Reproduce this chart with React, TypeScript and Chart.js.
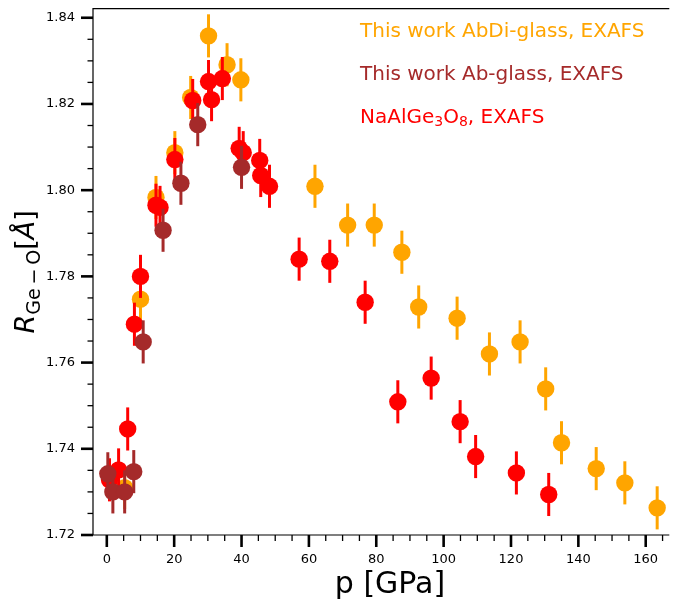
import React, { useEffect, useRef } from "react";
import { Chart, registerables } from "chart.js";

Chart.register(...registerables);

// ---- data ----
const pAbDi = [5.3, 10.0, 14.6, 20.2, 24.9, 30.2, 35.7, 39.8, 61.8, 71.5, 79.4, 87.6, 92.6, 104.0, 113.6, 122.7, 130.3, 135.0, 145.3, 153.8, 163.4];
const rAbDi = [1.731, 1.7747, 1.7983, 1.8087, 1.8215, 1.8358, 1.8291, 1.8256, 1.8009, 1.7919, 1.7919, 1.7856, 1.7729, 1.7703, 1.762, 1.7648, 1.7539, 1.7414, 1.7354, 1.7321, 1.7263];
const eAbDi = [0.005, 0.005, 0.005, 0.005, 0.005, 0.005, 0.005, 0.005, 0.005, 0.005, 0.005, 0.005, 0.005, 0.005, 0.005, 0.005, 0.005, 0.005, 0.005, 0.005, 0.005];

const pAb = [0.3, 1.8, 5.3, 8.0, 10.8, 16.7, 22.0, 27.0, 40.0];
const rAb = [1.7342, 1.73, 1.73, 1.7347, 1.7648, 1.7907, 1.8016, 1.8152, 1.8053];
const eAb = [0.005, 0.005, 0.005, 0.005, 0.005, 0.005, 0.005, 0.005, 0.005];

const pNa = [0.8, 3.5, 6.2, 8.2, 10.0, 14.6, 15.8, 20.2, 25.5, 30.2, 31.1, 34.3, 39.3, 40.5, 45.4, 45.7, 48.3, 57.1, 66.2, 76.7, 86.4, 96.3, 104.9, 109.5, 121.6, 131.2];
const rNa = [1.7328, 1.7351, 1.7446, 1.7689, 1.78, 1.7965, 1.796, 1.8071, 1.8208, 1.8252, 1.821, 1.8259, 1.8097, 1.8087, 1.8069, 1.8034, 1.8009, 1.784, 1.7835, 1.774, 1.7509, 1.7564, 1.7463, 1.7382, 1.7344, 1.7294];
const eNa = [0.005, 0.005, 0.005, 0.005, 0.005, 0.005, 0.005, 0.005, 0.005, 0.005, 0.005, 0.005, 0.005, 0.005, 0.005, 0.005, 0.005, 0.005, 0.005, 0.005, 0.005, 0.005, 0.005, 0.005, 0.005, 0.005];

const xTickLabels = [0, 20, 40, 60, 80, 100, 120, 140, 160];
const yTickLabels = [1.72, 1.74, 1.76, 1.78, 1.8, 1.82, 1.84];

const legendLabels = ["This work AbDi-glass, EXAFS", "This work Ab-glass, EXAFS", "NaAlGe3O8, EXAFS"];

const ORANGE = "#FFA500";
const BROWN = "#A52A2A";
const RED = "#FF0000";
const FONT = "'DejaVu Sans', sans-serif";

const errs: number[][] = [eAb, eNa, eAbDi];

const errorBarPlugin = {
  id: "errbars",
  beforeDatasetDraw(chart: any, args: any) {
    const i = args.index;
    const ds = chart.data.datasets[i];
    const meta = chart.getDatasetMeta(i);
    const ys = chart.scales.y;
    const ctx = chart.ctx;
    ctx.save();
    ctx.strokeStyle = ds.backgroundColor;
    ctx.lineWidth = 3;
    meta.data.forEach((el: any, j: number) => {
      const v = ds.data[j].y;
      const e = errs[i][j];
      ctx.beginPath();
      ctx.moveTo(el.x, ys.getPixelForValue(v - e));
      ctx.lineTo(el.x, ys.getPixelForValue(v + e));
      ctx.stroke();
    });
    ctx.restore();
  },
};

const decorPlugin = {
  id: "decor",
  afterDraw(chart: any) {
    const ctx = chart.ctx;
    const { left, right, top, bottom } = chart.chartArea;
    const xs = chart.scales.x;
    const ys = chart.scales.y;
    ctx.save();
    // frame
    ctx.strokeStyle = "#000";
    ctx.lineWidth = 1.2;
    ctx.beginPath();
    ctx.moveTo(left, bottom);
    ctx.lineTo(left, top);
    ctx.lineTo(right, top);
    ctx.moveTo(left, bottom);
    ctx.lineTo(right, bottom);
    ctx.stroke();
    // y ticks
    for (let k = 0; k <= 24; k++) {
      const v = 1.72 + k * 0.005;
      const major = k % 4 === 0;
      const py = ys.getPixelForValue(v);
      ctx.lineWidth = major ? 2.6 : 1.3;
      ctx.beginPath();
      ctx.moveTo(left, py);
      ctx.lineTo(left - (major ? 12 : 5.5), py);
      ctx.stroke();
    }
    // x ticks
    for (let k = 0; k <= 33; k++) {
      const v = k * 5;
      if (v > xs.max) break;
      const major = k % 4 === 0;
      const px = xs.getPixelForValue(v);
      ctx.lineWidth = major ? 2.6 : 1.3;
      ctx.beginPath();
      ctx.moveTo(px, bottom);
      ctx.lineTo(px, bottom + (major ? 12 : 6));
      ctx.stroke();
    }
    // x title
    ctx.fillStyle = "#000";
    ctx.textAlign = "center";
    ctx.textBaseline = "alphabetic";
    ctx.font = `30px ${FONT}`;
    ctx.fillText("p [GPa]", 390, 593);

    // y title (rotated, mixed fonts)
    ctx.save();
    ctx.translate(34, (top + bottom) / 2);
    ctx.rotate(-Math.PI / 2);
    const parts: { t: string; f: string; dy: number }[] = [
      { t: "R", f: `italic 27px ${FONT}`, dy: 0 },
      { t: "Ge", f: `19px ${FONT}`, dy: 6 },
      { t: "\u2009\u2212\u2009", f: `19px ${FONT}`, dy: 6 },
      { t: "O", f: `19px ${FONT}`, dy: 6 },
      { t: "[", f: `27px ${FONT}`, dy: 0 },
      { t: "Å", f: `italic 27px ${FONT}`, dy: 0 },
      { t: "]", f: `27px ${FONT}`, dy: 0 },
    ];
    let total = 0;
    parts.forEach((p) => {
      ctx.font = p.f;
      total += ctx.measureText(p.t).width;
    });
    let cx = -total / 2;
    ctx.textAlign = "left";
    parts.forEach((p) => {
      ctx.font = p.f;
      ctx.fillText(p.t, cx, p.dy);
      cx += ctx.measureText(p.t).width;
    });
    ctx.restore();

    // legend texts
    const lx = 360;
    const rows = [32, 75, 118];
    const colors = [ORANGE, BROWN, RED];
    ctx.textBaseline = "middle";
    ctx.textAlign = "left";
    for (let r = 0; r < 3; r++) {
      ctx.fillStyle = colors[r];
      if (r < 2) {
        ctx.font = `20px ${FONT}`;
        ctx.fillText(legendLabels[r], lx, rows[r]);
      } else {
        const segs: { t: string; sub: boolean }[] = [
          { t: "NaAlGe", sub: false },
          { t: "3", sub: true },
          { t: "O", sub: false },
          { t: "8", sub: true },
          { t: ", EXAFS", sub: false },
        ];
        let x = lx;
        segs.forEach((s) => {
          ctx.font = s.sub ? `14px ${FONT}` : `20px ${FONT}`;
          ctx.fillText(s.t, x, rows[r] + (s.sub ? 4 : 0));
          x += ctx.measureText(s.t).width;
        });
      }
    }
    ctx.restore();
  },
};

function toPts(xs: number[], ys: number[]) {
  return xs.map((x, i) => ({ x, y: ys[i] }));
}

function zeroPad(s: any) {
  s.paddingTop = 0;
  s.paddingBottom = 0;
  s.paddingLeft = 0;
  s.paddingRight = 0;
}

export default function App() {
  const ref = useRef<HTMLCanvasElement | null>(null);
  useEffect(() => {
    if (!ref.current) return;
    const chart = new Chart(ref.current, {
      type: "scatter",
      data: {
        datasets: [
          { label: legendLabels[1], data: toPts(pAb, rAb), backgroundColor: BROWN, borderColor: BROWN, pointRadius: 8.7, borderWidth: 0, order: 0 } as any,
          { label: legendLabels[2], data: toPts(pNa, rNa), backgroundColor: RED, borderColor: RED, pointRadius: 8.7, borderWidth: 0, order: 1 } as any,
          { label: legendLabels[0], data: toPts(pAbDi, rAbDi), backgroundColor: ORANGE, borderColor: ORANGE, pointRadius: 8.7, borderWidth: 0, order: 2 } as any,
        ],
      },
      options: {
        animation: false,
        responsive: false,
        layout: { padding: { top: 8, right: 0, left: 0, bottom: 0 } },
        plugins: { legend: { display: false }, tooltip: { enabled: false } },
        scales: {
          x: {
            type: "linear",
            min: -4.1,
            max: 167,
            grid: { display: false, drawTicks: false },
            border: { display: false },
            afterBuildTicks: (s: any) => {
              s.ticks = xTickLabels.map((v) => ({ value: v }));
            },
            afterFit: (s: any) => {
              s.height = 65;
              zeroPad(s);
            },
            ticks: {
              padding: 17,
              color: "#000",
              font: { family: FONT, size: 13 },
              maxRotation: 0,
              autoSkip: false,
              callback: (v: any) => String(v),
            },
          },
          y: {
            type: "linear",
            min: 1.72,
            max: 1.8421,
            grid: { display: false, drawTicks: false },
            border: { display: false },
            afterBuildTicks: (s: any) => {
              s.ticks = yTickLabels.map((v) => ({ value: v }));
            },
            afterFit: (s: any) => {
              s.width = 93;
              zeroPad(s);
            },
            ticks: {
              padding: 18,
              color: "#000",
              font: { family: FONT, size: 13 },
              autoSkip: false,
              callback: (v: any) => Number(v).toFixed(2),
            },
          },
        },
      },
      plugins: [errorBarPlugin, decorPlugin],
    });
    return () => chart.destroy();
  }, []);
  return (
    <div style={{ position: "fixed", left: 0, top: 0, width: 678, height: 600, background: "#fff" }}>
      <canvas ref={ref} width={678} height={600} style={{ display: "block" }} />
    </div>
  );
}
